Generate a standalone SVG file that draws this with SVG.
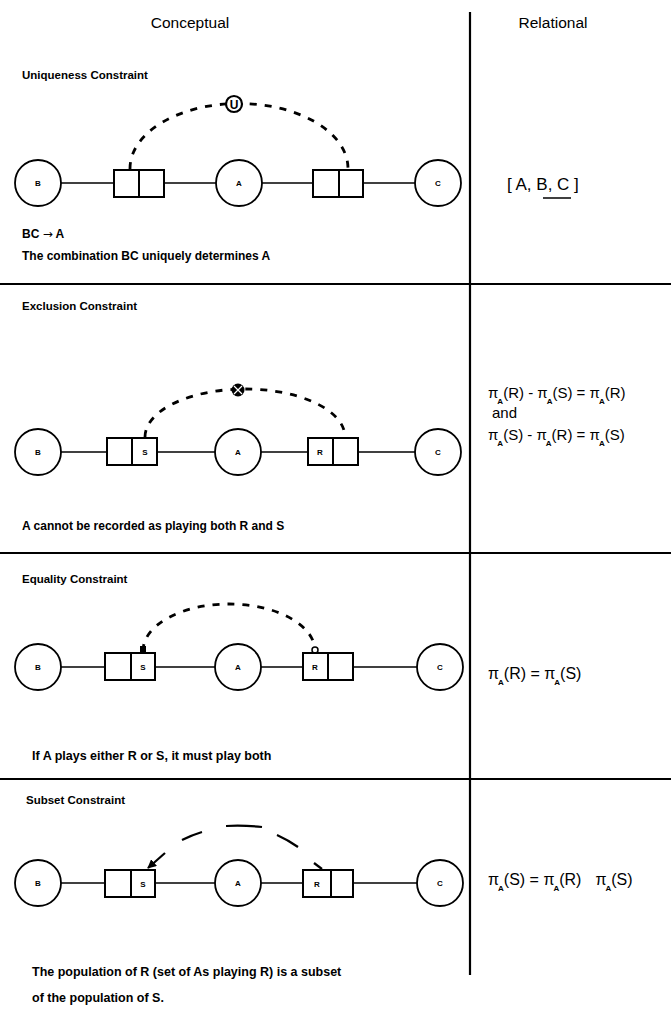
<svg xmlns="http://www.w3.org/2000/svg" width="671" height="1010" viewBox="0 0 671 1010">
<defs>
<style>
.rule{stroke:#000;stroke-width:2.2;fill:none}
.ln{stroke:#000;stroke-width:1.5;fill:none}
.node circle{fill:#fff;stroke:#000;stroke-width:1.8}
.box rect{fill:#fff;stroke:#000;stroke-width:2}
.box line{stroke:#000;stroke-width:2}
.lbl{font-family:"Liberation Sans",Arial,sans-serif;font-weight:bold;font-size:8px;text-anchor:middle}
.head{font-family:"Liberation Sans",Arial,sans-serif;font-size:15.5px;text-anchor:middle}
.title{font-family:"Liberation Sans",Arial,sans-serif;font-weight:bold;font-size:11.5px}
.desc{font-family:"Liberation Sans",Arial,sans-serif;font-weight:bold;font-size:12px}
.f{font-family:"Liberation Sans",Arial,sans-serif;font-size:15px}
.sub{font-size:8px;font-weight:bold}
.dash{stroke:#000;stroke-width:2.8;stroke-dasharray:7 8;fill:none}
.long{stroke:#000;stroke-width:2.2;fill:none}
.arw{font-family:"DejaVu Sans",sans-serif;font-weight:normal}
</style>
<marker id="arr" viewBox="0 0 10 10" refX="9" refY="5" markerWidth="9" markerHeight="9" orient="auto" markerUnits="userSpaceOnUse">
<path d="M0,0 L10,5 L0,10 z" fill="#000"/>
</marker>
</defs>
<rect width="671" height="1010" fill="#fff"/>

<g id="frame">
<line class="rule" x1="470" y1="12" x2="470" y2="975"/>
<line class="rule" x1="0" y1="284" x2="671" y2="284"/>
<line class="rule" x1="0" y1="553" x2="671" y2="553"/>
<line class="rule" x1="0" y1="779" x2="671" y2="779"/>
<text class="head" x="190" y="28">Conceptual</text>
<text class="head" x="553" y="28">Relational</text>
</g>

<g id="connectors">
<!-- section 1 -->
<line class="ln" x1="61" y1="183" x2="114" y2="183"/>
<line class="ln" x1="164" y1="183" x2="216" y2="183"/>
<line class="ln" x1="262" y1="183" x2="313" y2="183"/>
<line class="ln" x1="363" y1="183" x2="415" y2="183"/>
<path class="dash" d="M130,169 A 109 65 0 0 1 348,168"/>
<!-- section 2 -->
<line class="ln" x1="61" y1="452" x2="107" y2="452"/>
<line class="ln" x1="157" y1="452" x2="215" y2="452"/>
<line class="ln" x1="261" y1="452" x2="308" y2="452"/>
<line class="ln" x1="358" y1="452" x2="415" y2="452"/>
<path class="dash" d="M145,437 A 100 48 0 0 1 345,437"/>
<!-- section 3 -->
<line class="ln" x1="61" y1="667" x2="105" y2="667"/>
<line class="ln" x1="155" y1="667" x2="215" y2="667"/>
<line class="ln" x1="261" y1="667" x2="303" y2="667"/>
<line class="ln" x1="353" y1="667" x2="417" y2="667"/>
<path class="dash" d="M143,651 A 86 47 0 0 1 315,651"/>
<rect x="140" y="646" width="6" height="6" fill="#000"/>
<circle cx="315" cy="650" r="3" fill="#fff" stroke="#000" stroke-width="1.5"/>
<!-- section 4 -->
<line class="ln" x1="61" y1="883" x2="105" y2="883"/>
<line class="ln" x1="155" y1="883" x2="215" y2="883"/>
<line class="ln" x1="261" y1="883" x2="303" y2="883"/>
<line class="ln" x1="353" y1="883" x2="417" y2="883"/>
<line class="long" x1="314" y1="863" x2="322" y2="869"/>
<path class="long" d="M277,835 Q288,840 298,847"/>
<path class="long" d="M226,826 Q243,825 262,827"/>
<path class="long" d="M182,840 Q192,835 202,832"/>
<line class="long" x1="165" y1="853" x2="148" y2="868" marker-end="url(#arr)"/>
</g>

<g id="sec1">
<text class="title" x="22" y="79">Uniqueness Constraint</text>
<g id="s1-B" class="node"><circle cx="38" cy="183" r="23"/><text class="lbl" x="38" y="186">B</text></g>
<g id="s1-box1" class="box"><rect x="114" y="170" width="50" height="27"/><line x1="139" y1="170" x2="139" y2="197"/></g>
<g id="s1-A" class="node"><circle cx="239" cy="183" r="23"/><text class="lbl" x="239" y="186">A</text></g>
<g id="s1-box2" class="box"><rect x="313" y="170" width="50" height="27"/><line x1="339" y1="170" x2="339" y2="197"/></g>
<g id="s1-C" class="node"><circle cx="438" cy="183" r="23"/><text class="lbl" x="438" y="186">C</text></g>
<g id="s1-U"><circle cx="234" cy="104" r="8" fill="#fff" stroke="#000" stroke-width="2.2"/><text class="lbl" x="234" y="108.5" style="font-size:12px">U</text></g>
<text class="desc" x="22" y="238">BC <tspan class="arw">→</tspan> A</text>
<text class="desc" x="22" y="260">The combination BC uniquely determines A</text>
<text class="f" x="507" y="190" style="font-size:17px">[ A, B, C ]</text>
<line x1="543" y1="198" x2="571" y2="198" stroke="#000" stroke-width="1.5"/>
</g>

<g id="sec2">
<text class="title" x="22" y="310">Exclusion Constraint</text>
<g id="s2-B" class="node"><circle cx="38" cy="452" r="23"/><text class="lbl" x="38" y="455">B</text></g>
<g id="s2-box1" class="box"><rect x="107" y="438" width="50" height="27"/><line x1="132" y1="438" x2="132" y2="465"/><text class="lbl" x="145" y="455">S</text></g>
<g id="s2-A" class="node"><circle cx="238" cy="452" r="23"/><text class="lbl" x="238" y="455">A</text></g>
<g id="s2-box2" class="box"><rect x="308" y="438" width="50" height="27"/><line x1="333" y1="438" x2="333" y2="465"/><text class="lbl" x="320" y="455">R</text></g>
<g id="s2-C" class="node"><circle cx="438" cy="452" r="23"/><text class="lbl" x="438" y="455">C</text></g>
<g id="s2-X"><circle cx="238" cy="390" r="6.5" fill="#000"/><path d="M234,386 L242,394 M242,386 L234,394" stroke="#fff" stroke-width="1.2"/></g>
<text class="f" x="488" y="398">π<tspan class="sub" dx="-1" dy="6">A</tspan><tspan dy="-6">(R) - π</tspan><tspan class="sub" dx="-1" dy="6">A</tspan><tspan dy="-6">(S) = π</tspan><tspan class="sub" dx="-1" dy="6">A</tspan><tspan dy="-6">(R)</tspan></text>
<text class="f" x="492" y="418">and</text>
<text class="f" x="488" y="440">π<tspan class="sub" dx="-1" dy="6">A</tspan><tspan dy="-6">(S) - π</tspan><tspan class="sub" dx="-1" dy="6">A</tspan><tspan dy="-6">(R) = π</tspan><tspan class="sub" dx="-1" dy="6">A</tspan><tspan dy="-6">(S)</tspan></text>
<text class="desc" x="22" y="530">A cannot be recorded as playing both R and S</text>
</g>

<g id="sec3">
<text class="title" x="22" y="583">Equality Constraint</text>
<g id="s3-B" class="node"><circle cx="38" cy="667" r="23"/><text class="lbl" x="38" y="670">B</text></g>
<g id="s3-box1" class="box"><rect x="105" y="653" width="50" height="27"/><line x1="131" y1="653" x2="131" y2="680"/><text class="lbl" x="143" y="670">S</text></g>
<g id="s3-A" class="node"><circle cx="238" cy="667" r="23"/><text class="lbl" x="238" y="670">A</text></g>
<g id="s3-box2" class="box"><rect x="303" y="653" width="50" height="27"/><line x1="328" y1="653" x2="328" y2="680"/><text class="lbl" x="315" y="670">R</text></g>
<g id="s3-C" class="node"><circle cx="440" cy="667" r="23"/><text class="lbl" x="440" y="670">C</text></g>
<text class="f" x="488" y="679" style="font-size:16px">π<tspan class="sub" dx="-1" dy="6">A</tspan><tspan dy="-6">(R) = π</tspan><tspan class="sub" dx="-1" dy="6">A</tspan><tspan dy="-6">(S)</tspan></text>
<text class="desc" x="32" y="760" style="font-size:12.5px">If A plays either R or S, it must play both</text>
</g>

<g id="sec4">
<text class="title" x="26" y="804">Subset Constraint</text>
<g id="s4-B" class="node"><circle cx="38" cy="883" r="23"/><text class="lbl" x="38" y="886">B</text></g>
<g id="s4-box1" class="box"><rect x="105" y="870" width="50" height="27"/><line x1="131" y1="870" x2="131" y2="897"/><text class="lbl" x="143" y="887">S</text></g>
<g id="s4-A" class="node"><circle cx="238" cy="883" r="23"/><text class="lbl" x="238" y="886">A</text></g>
<g id="s4-box2" class="box"><rect x="303" y="870" width="50" height="27"/><line x1="331" y1="870" x2="331" y2="897"/><text class="lbl" x="317" y="887">R</text></g>
<g id="s4-C" class="node"><circle cx="440" cy="883" r="23"/><text class="lbl" x="440" y="886">C</text></g>
<text class="f" x="488" y="885" style="font-size:16px">π<tspan class="sub" dx="-1" dy="6">A</tspan><tspan dy="-6">(S) = π</tspan><tspan class="sub" dx="-1" dy="6">A</tspan><tspan dy="-6">(R)</tspan><tspan dx="14">π</tspan><tspan class="sub" dx="-1" dy="6">A</tspan><tspan dy="-6">(S)</tspan></text>
<text class="desc" x="32" y="976" style="font-size:12.5px">The population of R (set of As playing R) is a subset</text>
<text class="desc" x="32" y="1002" style="font-size:12.5px">of the population of S.</text>
</g>
</svg>
